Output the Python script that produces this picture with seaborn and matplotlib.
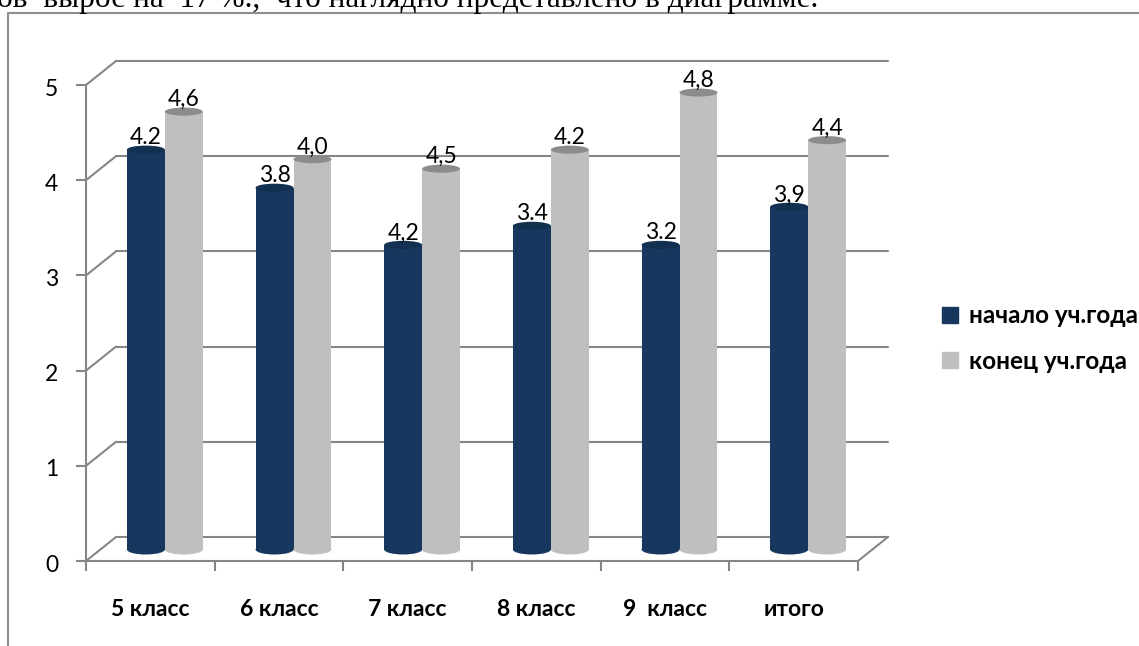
import pandas as pd
import matplotlib
matplotlib.use('Agg')
import matplotlib.pyplot as plt
from matplotlib.lines import Line2D
from matplotlib.patches import Ellipse, Patch
from matplotlib.transforms import ScaledTranslation
import seaborn as sns

# Chart data
CLASSES = ['5 класс', '6 класс', '7 класс', '8 класс', '9  класс', 'итого']
START = [4.2, 3.8, 3.2, 3.4, 3.2, 3.6]
END = [4.6, 4.1, 4.0, 4.2, 4.8, 4.3]
START_LABELS = ['4.2', '3.8', '4,2', '3.4', '3.2', '3,9']
END_LABELS = ['4,6', '4,0', '4,5', '4.2', '4,8', '4,4']
SERIES = ['начало уч.года', 'конец уч.года']
Y_TICKS = [0, 1, 2, 3, 4, 5]
HEADER = 'ов  вырос на  17 %.,  что наглядно представлено в диаграмме.'

# Style
W, H = 1139, 646
LINE = '#868686'
COLORS = ['#17375E', '#BFBFBF']
CAPS = ['#12304F', '#8C8C8C']
FONT = ['Lato', 'Open Sans', 'DejaVu Sans']


def px_axes(fig, left, right, top, bottom, zorder):
    """Axes placed by pixel edges measured from the top left corner"""
    ax = fig.add_axes([left / W, 1 - bottom / H, (right - left) / W, (bottom - top) / H])
    ax.set_zorder(zorder)
    ax.patch.set_alpha(0)
    ax.set_xlim(-0.5, len(CLASSES) - 0.5)
    ax.set_ylim(0, 5)
    return ax


def main():
    sns.set_theme(style='white')
    plt.rcParams['font.family'] = FONT
    plt.rcParams['text.color'] = 'black'
    plt.rcParams['xtick.labelcolor'] = 'black'
    plt.rcParams['ytick.labelcolor'] = 'black'
    fig = plt.figure(figsize=(W / 100, H / 100), dpi=100)

    # Text above the chart and the outer frame
    fig.text(818 / W, 1 - 7 / H, HEADER, family=['Liberation Serif'], fontsize=22.5,
             ha='right', va='baseline', color='black')
    fig.add_artist(Line2D([8 / W, 8 / W, 1], [0, 1 - 13 / H, 1 - 13 / H], color='#8E8E8E', lw=1.5))

    # Back wall with the gridlines
    back = px_axes(fig, 116, 888, 61, 537, 1)
    sns.despine(ax=back, left=True, bottom=True)
    back.set_xticks([])
    back.set_yticks(Y_TICKS)
    back.tick_params(left=False, labelleft=False)
    back.grid(axis='y', color=LINE, lw=1.5, clip_on=False)

    # Front axis with ticks and labels
    front = px_axes(fig, 86, 858, 85, 561, 2)
    sns.despine(ax=front)
    for side in ['left', 'bottom']:
        front.spines[side].set_color(LINE)
        front.spines[side].set_linewidth(1.5)
    front.set_yticks(Y_TICKS)
    front.set_xticks([i - 0.5 for i in range(len(CLASSES) + 1)])
    front.set_xticks(range(len(CLASSES)), labels=CLASSES, minor=True)
    front.tick_params(axis='y', left=True, length=7.2, width=1.5, color=LINE, labelsize=16.5, pad=12)
    front.tick_params(axis='x', which='major', bottom=True, length=7, width=1.5, color=LINE, labelbottom=False)
    front.tick_params(axis='x', which='minor', bottom=False, labelsize=16.5, pad=23)
    for label in front.get_xticklabels(minor=True):
        label.set_fontweight('bold')
    nudge = ScaledTranslation(-1 / 100, -2 / 100, fig.dpi_scale_trans)
    for label in front.get_yticklabels():
        label.set_transform(label.get_transform() + nudge)

    # Depth lines between the front axis and the back wall
    dx = 30 / 128.67
    dy = 24 / 95.2
    for tick in Y_TICKS:
        front.plot([-0.5, -0.5 + dx], [tick, tick + dy], color=LINE, lw=1.5, clip_on=False)
    front.plot([5.5, 5.5 + dx], [0, dy], color=LINE, lw=1.5, clip_on=False)

    # Bars stand half way into the depth
    bars = px_axes(fig, 100.5, 872.5, 73.5, 549.5, 3)
    df = pd.DataFrame({
        'class': CLASSES * 2,
        'value': START + END,
        'series': [SERIES[0]] * len(CLASSES) + [SERIES[1]] * len(CLASSES),
    })
    sns.barplot(data=df, x='class', y='value', hue='series', hue_order=SERIES, palette=COLORS,
                width=0.59, gap=0, saturation=1, dodge=True, linewidth=0, ax=bars, legend=False)
    bars.set_xlim(-0.5, len(CLASSES) - 0.5)
    bars.set_ylim(0, 5)
    bars.axis('off')

    # Round tops and bottoms of the cylinders
    for container, color, cap, labels in zip(bars.containers, COLORS, CAPS, [START_LABELS, END_LABELS]):
        for bar in container:
            x = bar.get_x() + bar.get_width() / 2
            width = bar.get_width()
            bars.add_patch(Ellipse((x, 0), width, 0.105, color=color, lw=0, clip_on=False, zorder=1))
            bars.add_patch(Ellipse((x, bar.get_height()), width, 0.085, color=cap, lw=0, clip_on=False, zorder=3))
        texts = bars.bar_label(container, labels=labels, padding=1, fontsize=16.5, color='black')
        for text in texts:
            text.set_x(text.get_position()[0] - 0.015)

    # Legend
    handles = [Patch(color=c, label=s) for c, s in zip(COLORS, SERIES)]
    fig.legend(handles=handles, loc='upper left', bbox_to_anchor=(935 / W, 1 - 297 / H), frameon=False,
               prop={'weight': 'bold', 'size': 17.5}, handlelength=0.64, handleheight=0.64,
               handletextpad=0.45, labelspacing=0.92, borderpad=0, borderaxespad=0.3)

    fig.savefig('out.png', dpi=100)


if __name__ == "__main__":
    main()
